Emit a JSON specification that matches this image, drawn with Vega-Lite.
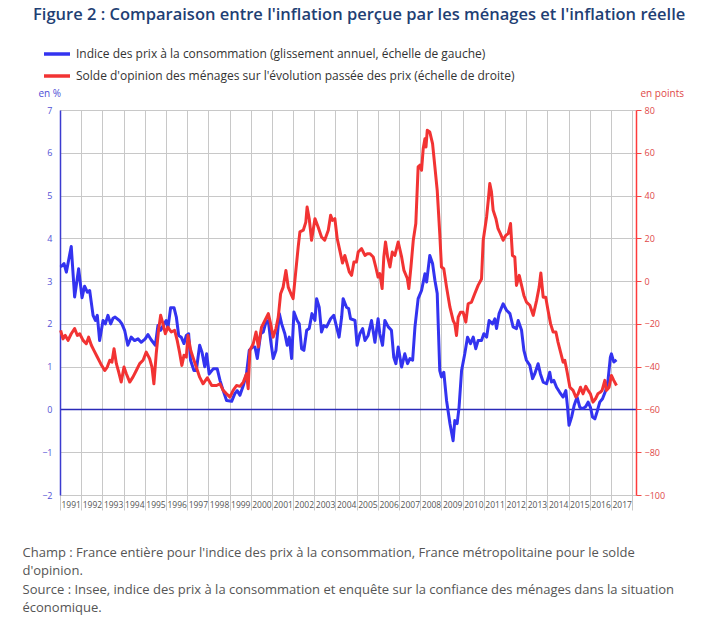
{
 "$schema": "https://vega.github.io/schema/vega-lite/v6.json",
 "width": 576,
 "height": 385,
 "autosize": {"type": "none"},
 "padding": {"left": 60, "top": 110, "right": 84, "bottom": 123},
 "background": "white",
 "config": {"font": "Open Sans", "view": {"stroke": null}},
 "title": {"text": "Figure 2 : Comparaison entre l'inflation perçue par les ménages et l'inflation réelle", "anchor": "start", "frame": "group", "dx": -27, "offset": 16, "fontSize": 16.5, "fontWeight": 600, "color": "#1f3f74", "font": "Open Sans"},
 "datasets": {
  "ipc": [
   {"t":1991.03,"v":3.33},{"t":1991.19,"v":3.41},{"t":1991.3,"v":3.21},{"t":1991.53,"v":3.81},{"t":1991.69,"v":2.63},{"t":1991.88,"v":3.29},
   {"t":1992.04,"v":2.61},{"t":1992.16,"v":2.88},{"t":1992.29,"v":2.74},{"t":1992.4,"v":2.78},{"t":1992.56,"v":2.2},{"t":1992.67,"v":2.08},{"t":1992.76,"v":2.2},{"t":1992.87,"v":1.61},
   {"t":1993.03,"v":2.08},{"t":1993.14,"v":2.0},{"t":1993.26,"v":2.2},{"t":1993.39,"v":2.0},{"t":1993.5,"v":2.13},{"t":1993.6,"v":2.16},{"t":1993.8,"v":2.08},{"t":1993.92,"v":2.0},
   {"t":1994.05,"v":1.85},{"t":1994.2,"v":1.5},{"t":1994.36,"v":1.69},{"t":1994.52,"v":1.61},{"t":1994.68,"v":1.65},{"t":1994.83,"v":1.57},
   {"t":1995.02,"v":1.65},{"t":1995.15,"v":1.75},{"t":1995.3,"v":1.63},{"t":1995.5,"v":1.5},{"t":1995.62,"v":1.96},{"t":1995.75,"v":1.85},{"t":1995.9,"v":1.99},
   {"t":1996.01,"v":2.08},{"t":1996.09,"v":1.89},{"t":1996.22,"v":2.38},{"t":1996.38,"v":2.38},{"t":1996.49,"v":2.16},{"t":1996.6,"v":1.73},{"t":1996.72,"v":1.69},{"t":1996.85,"v":1.54},{"t":1996.96,"v":1.73},
   {"t":1997.07,"v":1.77},{"t":1997.16,"v":1.15},{"t":1997.32,"v":0.91},{"t":1997.43,"v":0.91},{"t":1997.59,"v":1.5},{"t":1997.7,"v":1.34},{"t":1997.83,"v":1.0},{"t":1997.92,"v":1.3},
   {"t":1998.04,"v":0.83},{"t":1998.23,"v":0.95},{"t":1998.42,"v":0.95},{"t":1998.55,"v":0.68},{"t":1998.7,"v":0.44},{"t":1998.86,"v":0.21},
   {"t":1999.1,"v":0.19},{"t":1999.25,"v":0.37},{"t":1999.36,"v":0.44},{"t":1999.49,"v":0.33},{"t":1999.65,"v":0.56},{"t":1999.8,"v":0.83},{"t":1999.93,"v":1.38},
   {"t":2000.09,"v":1.46},{"t":2000.2,"v":1.46},{"t":2000.31,"v":1.19},{"t":2000.47,"v":1.77},{"t":2000.59,"v":1.81},{"t":2000.72,"v":2.04},{"t":2000.83,"v":2.08},{"t":2000.94,"v":1.61},
   {"t":2001.06,"v":1.19},{"t":2001.19,"v":1.38},{"t":2001.35,"v":2.24},{"t":2001.46,"v":2.0},{"t":2001.61,"v":1.77},{"t":2001.72,"v":1.5},{"t":2001.82,"v":1.69},{"t":2001.93,"v":1.19},
   {"t":2002.04,"v":2.28},{"t":2002.19,"v":2.08},{"t":2002.29,"v":2.0},{"t":2002.4,"v":1.42},{"t":2002.51,"v":1.38},{"t":2002.64,"v":1.85},{"t":2002.76,"v":1.89},{"t":2002.89,"v":2.24},
   {"t":2003.03,"v":2.08},{"t":2003.11,"v":2.59},{"t":2003.23,"v":2.39},{"t":2003.34,"v":1.81},{"t":2003.45,"v":1.96},{"t":2003.58,"v":1.93},{"t":2003.77,"v":2.12},{"t":2003.92,"v":2.2},
   {"t":2004.05,"v":1.93},{"t":2004.17,"v":1.69},{"t":2004.29,"v":2.16},{"t":2004.36,"v":2.59},{"t":2004.52,"v":2.39},{"t":2004.62,"v":2.36},{"t":2004.71,"v":2.12},{"t":2004.92,"v":2.08},
   {"t":2005.02,"v":1.5},{"t":2005.15,"v":1.77},{"t":2005.28,"v":1.89},{"t":2005.39,"v":1.61},{"t":2005.54,"v":1.73},{"t":2005.7,"v":2.08},{"t":2005.86,"v":1.57},
   {"t":2006.01,"v":2.12},{"t":2006.09,"v":1.77},{"t":2006.22,"v":1.5},{"t":2006.33,"v":2.08},{"t":2006.49,"v":1.93},{"t":2006.64,"v":1.85},{"t":2006.75,"v":1.22},{"t":2006.85,"v":1.07},{"t":2006.96,"v":1.46},
   {"t":2007.12,"v":0.99},{"t":2007.27,"v":1.3},{"t":2007.4,"v":1.07},{"t":2007.51,"v":1.19},{"t":2007.64,"v":1.15},{"t":2007.75,"v":1.93},{"t":2007.9,"v":2.59},
   {"t":2008.06,"v":2.78},{"t":2008.22,"v":3.17},{"t":2008.3,"v":2.98},{"t":2008.45,"v":3.6},{"t":2008.58,"v":3.41},{"t":2008.69,"v":3.02},{"t":2008.8,"v":2.71},{"t":2008.92,"v":0.91},
   {"t":2009.0,"v":0.76},{"t":2009.11,"v":0.87},{"t":2009.24,"v":0.21},{"t":2009.4,"v":-0.33},{"t":2009.55,"v":-0.73},{"t":2009.63,"v":-0.26},{"t":2009.74,"v":-0.33},{"t":2009.83,"v":0.05},{"t":2009.95,"v":0.91},
   {"t":2010.1,"v":1.3},{"t":2010.23,"v":1.69},{"t":2010.37,"v":1.54},{"t":2010.5,"v":1.69},{"t":2010.62,"v":1.42},{"t":2010.73,"v":1.61},{"t":2010.89,"v":1.61},
   {"t":2011.0,"v":1.77},{"t":2011.13,"v":1.69},{"t":2011.25,"v":2.08},{"t":2011.41,"v":2.0},{"t":2011.52,"v":2.12},{"t":2011.6,"v":1.89},{"t":2011.72,"v":2.24},{"t":2011.91,"v":2.47},
   {"t":2012.07,"v":2.32},{"t":2012.23,"v":2.24},{"t":2012.38,"v":1.93},{"t":2012.54,"v":1.89},{"t":2012.62,"v":2.08},{"t":2012.78,"v":1.85},{"t":2012.89,"v":1.38},
   {"t":2013.01,"v":1.15},{"t":2013.17,"v":1.03},{"t":2013.3,"v":0.72},{"t":2013.4,"v":0.83},{"t":2013.56,"v":1.07},{"t":2013.67,"v":0.83},{"t":2013.8,"v":0.64},{"t":2013.96,"v":0.6},
   {"t":2014.11,"v":0.87},{"t":2014.19,"v":0.64},{"t":2014.3,"v":0.68},{"t":2014.43,"v":0.52},{"t":2014.58,"v":0.4},{"t":2014.74,"v":0.29},{"t":2014.87,"v":0.44},{"t":2014.95,"v":0.05},
   {"t":2015.02,"v":-0.37},{"t":2015.14,"v":-0.18},{"t":2015.26,"v":0.09},{"t":2015.4,"v":0.29},{"t":2015.53,"v":0.05},{"t":2015.68,"v":0.02},{"t":2015.81,"v":0.07},{"t":2015.92,"v":0.17},
   {"t":2016.03,"v":0.05},{"t":2016.13,"v":-0.18},{"t":2016.24,"v":-0.22},{"t":2016.34,"v":-0.06},{"t":2016.47,"v":0.17},{"t":2016.6,"v":0.25},{"t":2016.75,"v":0.44},{"t":2016.86,"v":0.68},{"t":2016.97,"v":1.22},
   {"t":2017.02,"v":1.3},{"t":2017.13,"v":1.11},{"t":2017.26,"v":1.16}
  ],
  "solde": [
   {"t":1991.03,"r":-23},{"t":1991.14,"r":-27},{"t":1991.25,"r":-25.4},{"t":1991.38,"r":-27.7},{"t":1991.53,"r":-24.6},{"t":1991.69,"r":-22.2},{"t":1991.82,"r":-25.4},{"t":1991.93,"r":-24.6},
   {"t":1992.09,"r":-27.7},{"t":1992.24,"r":-29.3},{"t":1992.35,"r":-26.2},{"t":1992.48,"r":-30},{"t":1992.6,"r":-32.4},{"t":1992.76,"r":-35.5},{"t":1992.92,"r":-38.6},
   {"t":1993.11,"r":-41.8},{"t":1993.23,"r":-40.2},{"t":1993.35,"r":-37},{"t":1993.45,"r":-37.9},{"t":1993.55,"r":-31.6},{"t":1993.66,"r":-38.6},{"t":1993.77,"r":-42.5},{"t":1993.89,"r":-47.2},
   {"t":1994.02,"r":-40.2},{"t":1994.13,"r":-43.3},{"t":1994.29,"r":-47.2},{"t":1994.44,"r":-44.9},{"t":1994.6,"r":-41.8},{"t":1994.76,"r":-38.6},{"t":1994.92,"r":-37},
   {"t":1995.07,"r":-33.2},{"t":1995.23,"r":-36.3},{"t":1995.34,"r":-40.2},{"t":1995.43,"r":-48},{"t":1995.54,"r":-34},{"t":1995.65,"r":-23},{"t":1995.75,"r":-16},{"t":1995.86,"r":-20},{"t":1995.97,"r":-24.6},
   {"t":1996.09,"r":-21.5},{"t":1996.25,"r":-23.8},{"t":1996.41,"r":-23},{"t":1996.53,"r":-27.7},{"t":1996.64,"r":-33.2},{"t":1996.75,"r":-39.4},{"t":1996.85,"r":-34.7},{"t":1996.96,"r":-35.5},
   {"t":1997.04,"r":-25.4},{"t":1997.17,"r":-32.4},{"t":1997.27,"r":-35.5},{"t":1997.43,"r":-40.2},{"t":1997.59,"r":-44.9},{"t":1997.75,"r":-48},{"t":1997.95,"r":-45.2},
   {"t":1998.16,"r":-48.8},{"t":1998.39,"r":-48.8},{"t":1998.55,"r":-48},{"t":1998.7,"r":-51.1},{"t":1998.86,"r":-52.7},
   {"t":1999.02,"r":-54.2},{"t":1999.17,"r":-51.1},{"t":1999.33,"r":-48.8},{"t":1999.49,"r":-49.2},{"t":1999.65,"r":-47.2},{"t":1999.8,"r":-43.3},{"t":1999.88,"r":-50.3},{"t":1999.96,"r":-32.4},
   {"t":2000.12,"r":-29.3},{"t":2000.25,"r":-23.8},{"t":2000.36,"r":-30.8},{"t":2000.51,"r":-21.5},{"t":2000.67,"r":-18.4},{"t":2000.83,"r":-15.2},{"t":2000.94,"r":-20},
   {"t":2001.06,"r":-26.2},{"t":2001.19,"r":-22.2},{"t":2001.3,"r":-16.8},{"t":2001.41,"r":-5.9},{"t":2001.53,"r":-2.8},{"t":2001.66,"r":5},{"t":2001.77,"r":-2.8},{"t":2001.93,"r":-6.7},
   {"t":2002.0,"r":-8.2},{"t":2002.13,"r":5},{"t":2002.24,"r":16},{"t":2002.32,"r":23},{"t":2002.48,"r":23.8},{"t":2002.6,"r":27.6},{"t":2002.66,"r":34.6},{"t":2002.76,"r":29.2},{"t":2002.87,"r":19.1},
   {"t":2003.03,"r":29.2},{"t":2003.18,"r":25.3},{"t":2003.34,"r":20.6},{"t":2003.49,"r":19.1},{"t":2003.66,"r":23.8},{"t":2003.77,"r":30.8},{"t":2003.86,"r":28.4},{"t":2003.97,"r":29.2},
   {"t":2004.08,"r":19.9},{"t":2004.21,"r":14},{"t":2004.33,"r":8.5},{"t":2004.44,"r":12},{"t":2004.55,"r":8},{"t":2004.65,"r":4.3},{"t":2004.76,"r":2.7},{"t":2004.87,"r":8.9},{"t":2004.99,"r":8.9},
   {"t":2005.07,"r":13.6},{"t":2005.23,"r":15.2},{"t":2005.39,"r":12},{"t":2005.5,"r":12.8},{"t":2005.63,"r":12.8},{"t":2005.78,"r":11.3},{"t":2005.9,"r":6.6},
   {"t":2006.01,"r":1.9},{"t":2006.09,"r":3.5},{"t":2006.2,"r":-3.5},{"t":2006.28,"r":11.3},{"t":2006.36,"r":18.3},{"t":2006.46,"r":11.3},{"t":2006.57,"r":6.6},{"t":2006.68,"r":13.6},{"t":2006.8,"r":12},{"t":2006.96,"r":18.3},
   {"t":2007.12,"r":11.3},{"t":2007.23,"r":5},{"t":2007.39,"r":1.2},{"t":2007.46,"r":-3.5},{"t":2007.56,"r":6.6},{"t":2007.67,"r":19.1},{"t":2007.79,"r":26.9},{"t":2007.9,"r":53.4},{"t":2007.98,"r":54.2},
   {"t":2008.06,"r":51.8},{"t":2008.14,"r":62},{"t":2008.22,"r":66.6},{"t":2008.27,"r":62.7},{"t":2008.33,"r":70.5},{"t":2008.45,"r":69.7},{"t":2008.58,"r":64.3},{"t":2008.69,"r":53.4},{"t":2008.8,"r":42.4},{"t":2008.92,"r":22.2},
   {"t":2009.0,"r":6.6},{"t":2009.11,"r":5.8},{"t":2009.24,"r":-2.8},{"t":2009.4,"r":-12.2},{"t":2009.55,"r":-18.4},{"t":2009.63,"r":-20},{"t":2009.71,"r":-25.4},{"t":2009.79,"r":-16.8},{"t":2009.9,"r":-14.5},
   {"t":2010.02,"r":-14.5},{"t":2010.15,"r":-19.2},{"t":2010.26,"r":-10.6},{"t":2010.42,"r":-9.8},{"t":2010.57,"r":-5.9},{"t":2010.73,"r":-2},{"t":2010.89,"r":1},{"t":2010.97,"r":19.1},
   {"t":2011.13,"r":30},{"t":2011.21,"r":37.8},{"t":2011.28,"r":45.6},{"t":2011.36,"r":41.7},{"t":2011.44,"r":33.1},{"t":2011.57,"r":29.2},{"t":2011.67,"r":24.5},{"t":2011.78,"r":22.2},{"t":2011.91,"r":19.1},
   {"t":2012.04,"r":21.4},{"t":2012.15,"r":22.2},{"t":2012.26,"r":26.9},{"t":2012.35,"r":12},{"t":2012.46,"r":11.3},{"t":2012.54,"r":-2},{"t":2012.67,"r":2.7},{"t":2012.78,"r":-2},{"t":2012.89,"r":-6.7},
   {"t":2013.01,"r":-9.8},{"t":2013.17,"r":-11.3},{"t":2013.33,"r":-16},{"t":2013.49,"r":-9},{"t":2013.61,"r":-2.8},{"t":2013.69,"r":3.8},{"t":2013.8,"r":-7.5},{"t":2013.92,"r":-7.5},
   {"t":2014.03,"r":-13.7},{"t":2014.15,"r":-20},{"t":2014.27,"r":-23.8},{"t":2014.4,"r":-23.8},{"t":2014.5,"r":-28.5},{"t":2014.62,"r":-33.2},{"t":2014.74,"r":-37.9},{"t":2014.82,"r":-37},{"t":2014.93,"r":-42.5},
   {"t":2015.06,"r":-49.6},{"t":2015.21,"r":-51.1},{"t":2015.34,"r":-54.2},{"t":2015.45,"r":-52.7},{"t":2015.56,"r":-49.6},{"t":2015.68,"r":-52.7},{"t":2015.81,"r":-49.2},{"t":2015.92,"r":-51.1},
   {"t":2016.03,"r":-52.7},{"t":2016.15,"r":-56.6},{"t":2016.27,"r":-55},{"t":2016.38,"r":-52.7},{"t":2016.49,"r":-52},{"t":2016.58,"r":-51.1},{"t":2016.71,"r":-46.4},{"t":2016.79,"r":-51.1},{"t":2016.91,"r":-49.6},
   {"t":2017.02,"r":-44.1},{"t":2017.13,"r":-46.4},{"t":2017.26,"r":-48.8}
  ]
 },
 "layer": [
  {
   "data": {"name": "ipc"},
   "mark": {"type": "line", "strokeWidth": 3, "strokeJoin": "round"},
   "encoding": {
    "x": {"field": "t", "type": "quantitative",
     "scale": {"domain": [1991, 2018.18], "nice": false, "zero": false},
     "axis": {"values": [1991,1992,1993,1994,1995,1996,1997,1998,1999,2000,2001,2002,2003,2004,2005,2006,2007,2008,2009,2010,2011,2012,2013,2014,2015,2016,2017,2018],
      "tickCount": 40,
      "format": "d", "labelExpr": "datum.value < 2018 ? datum.label : ''",
      "grid": true, "gridColor": "#c8c8c8", "gridWidth": 1,
      "domain": false, "ticks": true, "tickSize": 15, "tickColor": "#c8c8c8",
      "labelAlign": "left", "labelOffset": 1, "labelPadding": -10, "labelBaseline": "top",
      "labelFontSize": 8.5, "labelColor": "#555555", "labelFlush": false, "labelOverlap": false, "labelBound": false,
      "title": ["Champ : France entière pour l'indice des prix à la consommation, France métropolitaine pour le solde", "d'opinion.", "Source : Insee, indice des prix à la consommation et enquête sur la confiance des ménages dans la situation", "économique."],
      "titleAnchor": "start", "titleAlign": "left", "titleBaseline": "top", "titleX": -38, "titleY": 51,
      "titleFontSize": 13, "titleFontWeight": "normal", "titleColor": "#555555", "titleLineHeight": 18.5}},
    "y": {"field": "v", "type": "quantitative",
     "scale": {"domain": [-2, 7], "nice": false, "zero": false},
     "axis": {"values": [-2,-1,0,1,2,3,4,5,6,7], "tickCount": 20, "format": "d", "grid": true,
      "gridColor": {"condition": {"test": "datum.value === 0", "value": "#2a2ab8"}, "value": "#c8c8c8"},
      "gridWidth": {"condition": {"test": "datum.value === 0", "value": 1.5}, "value": 1},
      "ticks": false, "domainColor": "#3b3bd0", "domainWidth": 1.5,
      "labelColor": "#5252d6", "labelFontSize": 9, "labelPadding": 8,
      "title": "en %", "titleAngle": 0, "titleAlign": "left", "titleBaseline": "middle", "titleX": -22, "titleY": -17,
      "titleFontSize": 10, "titleFontWeight": "normal", "titleColor": "#4d4dd6"}},
    "color": {"datum": "ipc", "type": "nominal",
     "scale": {"domain": ["ipc", "solde"], "range": ["#3333f0", "#f23333"]},
     "legend": {"orient": "none", "legendX": -18, "legendY": -71, "direction": "vertical", "title": null,
      "symbolType": "stroke", "symbolStrokeWidth": 3.5, "symbolSize": 676,
      "labelFontSize": 12, "labelColor": "#333333", "labelLimit": 700, "labelOffset": 4, "rowPadding": -2,
      "labelExpr": "datum.value == 'ipc' ? 'Indice des prix à la consommation (glissement annuel, échelle de gauche)' : \"Solde d'opinion des ménages sur l'évolution passée des prix (échelle de droite)\""}}
   }
  },
  {
   "data": {"name": "solde"},
   "mark": {"type": "line", "strokeWidth": 3, "strokeJoin": "round"},
   "encoding": {
    "x": {"field": "t", "type": "quantitative"},
    "y": {"field": "r", "type": "quantitative",
     "scale": {"domain": [-100, 80], "nice": false, "zero": false},
     "axis": {"orient": "right", "values": [-100,-80,-60,-40,-20,0,20,40,60,80], "tickCount": 20, "format": "d", "grid": false,
      "ticks": true, "tickSize": 5, "tickColor": "#f04848", "domainColor": "#ff3a3a", "domainWidth": 1.5,
      "labelColor": "#e04848", "labelFontSize": 9, "labelPadding": 3,
      "title": "en points", "titleAngle": 0, "titleAlign": "left", "titleBaseline": "middle", "titleX": 4, "titleY": -17,
      "titleFontSize": 10, "titleFontWeight": "normal", "titleColor": "#e04848"}},
    "color": {"datum": "solde", "type": "nominal"}
   }
  }
 ],
 "resolve": {"scale": {"y": "independent"}}
}
